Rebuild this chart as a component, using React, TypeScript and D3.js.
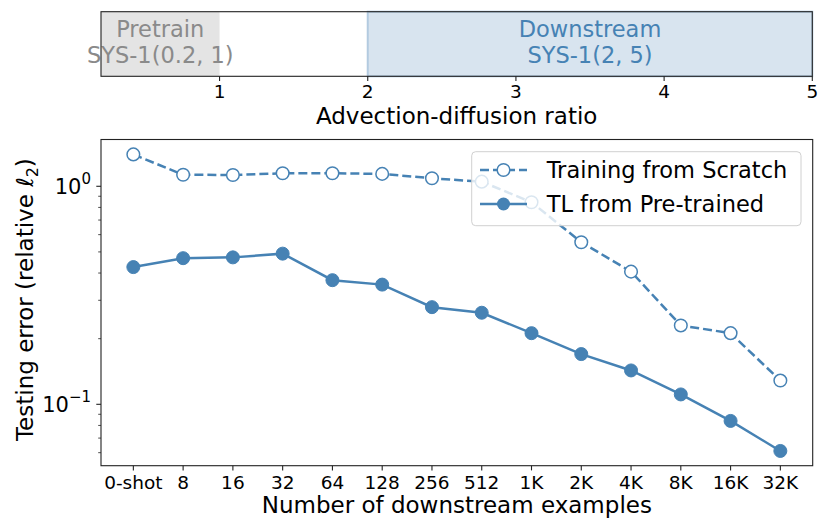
import React from "react";
import * as d3 from "d3";

const categories = ["0-shot", "8", "16", "32", "64", "128", "256", "512", "1K", "2K", "4K", "8K", "16K", "32K"];
const scratch = [1.40, 1.13, 1.127, 1.147, 1.147, 1.14, 1.088, 1.05, 0.845, 0.554, 0.406, 0.230, 0.212, 0.1285];
const pretrained = [0.426, 0.468, 0.472, 0.491, 0.371, 0.354, 0.279, 0.263, 0.212, 0.170, 0.143, 0.111, 0.0839, 0.0611];
const ratioTicks = [1, 2, 3, 4, 5];
const pretrainRange = [0.2, 1];
const downstreamRange = [2, 5];

const FONT = "DejaVu Sans, sans-serif";
const BLUE = "#4682b4";

export default function App() {
  const W = 830, H = 529;
  // top panel
  const tx = d3.scaleLinear().domain([0.2, 5]).range([101, 812.3]);
  const tTop = 11.7, tBot = 76.3;
  // main panel
  const x = d3.scaleLinear().domain([-0.65, categories.length - 1 + 0.65]).range([101, 812.7]);
  const y = d3.scaleLog().domain([0.05229, 1.639]).range([465.7, 139.5]);
  const mTop = 139.5, mBot = 465.7, mLeft = 101, mRight = 812.7;

  const line = d3.line<number>().x((_, i) => x(i)).y((d) => y(d));
  const minor = [0.06, 0.07, 0.08, 0.09, 0.2, 0.3, 0.4, 0.5, 0.6, 0.7, 0.8, 0.9];
  const majors = [{ v: 1, e: "0" }, { v: 0.1, e: "−1" }];

  return (
    <svg width={W} height={H} style={{ position: "absolute", left: 0, top: 0 }} fontFamily={FONT}>
      <rect width={W} height={H} fill="#fff" />
      {/* Top panel */}
      <rect x={tx(pretrainRange[0])} y={tTop} width={tx(pretrainRange[1]) - tx(pretrainRange[0])} height={tBot - tTop} fill="#e4e4e4" />
      <rect x={tx(downstreamRange[0])} y={tTop} width={tx(downstreamRange[1]) - tx(downstreamRange[0])} height={tBot - tTop} fill="#d8e4ef" stroke="#b3cbe0" strokeWidth={2} />
      <text x={tx(0.6)} y={37} textAnchor="middle" fontSize={22.5} fill="#8a8a8a">Pretrain</text>
      <text x={tx(0.6)} y={63} textAnchor="middle" fontSize={22.5} fill="#8a8a8a">SYS-1(0.2, 1)</text>
      <text x={tx(3.5)} y={37} textAnchor="middle" fontSize={22.5} fill={BLUE}>Downstream</text>
      <text x={tx(3.5)} y={63} textAnchor="middle" fontSize={22.5} fill={BLUE}>SYS-1(2, 5)</text>
      <rect x={101} y={tTop} width={812.3 - 101} height={tBot - tTop} fill="none" stroke="#222" strokeWidth={1.1} />
      {ratioTicks.map((t) => (
        <g key={t}>
          <line x1={tx(t)} x2={tx(t)} y1={tBot} y2={tBot + 4.7} stroke="#222" strokeWidth={1.1} />
          <text x={tx(t)} y={98} textAnchor="middle" fontSize={18.5} fill="#000">{t}</text>
        </g>
      ))}
      <text x={(101 + 812.3) / 2} y={124} textAnchor="middle" fontSize={23} fill="#000">Advection-diffusion ratio</text>

      {/* Main panel */}
      <path d={line(scratch) || ""} fill="none" stroke={BLUE} strokeWidth={2.5} strokeDasharray="9,4" />
      <path d={line(pretrained) || ""} fill="none" stroke={BLUE} strokeWidth={2.5} />
      {scratch.map((v, i) => (
        <circle key={"s" + i} cx={x(i)} cy={y(v)} r={6.3} fill="#fff" stroke={BLUE} strokeWidth={1.5} />
      ))}
      {pretrained.map((v, i) => (
        <circle key={"p" + i} cx={x(i)} cy={y(v)} r={6.5} fill={BLUE} stroke={BLUE} strokeWidth={1} />
      ))}
      <rect x={mLeft} y={mTop} width={mRight - mLeft} height={mBot - mTop} fill="none" stroke="#222" strokeWidth={1.1} />
      {categories.map((c, i) => (
        <g key={c}>
          <line x1={x(i)} x2={x(i)} y1={mBot} y2={mBot + 4.7} stroke="#222" strokeWidth={1.1} />
          <text x={x(i)} y={488.5} textAnchor="middle" fontSize={18.5} fill="#000">{c}</text>
        </g>
      ))}
      {minor.map((v) => (
        <line key={v} x1={mLeft - 2.8} x2={mLeft} y1={y(v)} y2={y(v)} stroke="#222" strokeWidth={0.8} />
      ))}
      {majors.map((m) => (
        <g key={m.v}>
          <line x1={mLeft - 4.7} x2={mLeft} y1={y(m.v)} y2={y(m.v)} stroke="#222" strokeWidth={1.1} />
          <text x={91} y={y(m.v) + 7.5} textAnchor="end" fontSize={21} fill="#000">
            10<tspan fontSize={15} dy={-10}>{m.e}</tspan>
          </text>
        </g>
      ))}
      <text x={(mLeft + mRight) / 2} y={513} textAnchor="middle" fontSize={23} fill="#000">Number of downstream examples</text>
      <text transform={`translate(33, ${(mTop + mBot) / 2 - 3}) rotate(-90)`} textAnchor="middle" fontSize={23} fill="#000">
        Testing error (relative <tspan fontStyle="italic">ℓ</tspan><tspan fontSize={16} dy={5}>2</tspan><tspan dy={-5}>)</tspan>
      </text>

      {/* Legend */}
      <rect x={471.7} y={151.7} width={801 - 471.7} height={225.7 - 151.7} rx={4} fill="#fff" fillOpacity={0.8} stroke="#d0d0d0" strokeWidth={1} />
      <line x1={480} x2={527} y1={170} y2={170} stroke={BLUE} strokeWidth={2.5} strokeDasharray="9,4" />
      <circle cx={503.5} cy={170} r={6.3} fill="#fff" stroke={BLUE} strokeWidth={1.5} />
      <text x={546.7} y={178} fontSize={22.5} fill="#000">Training from Scratch</text>
      <line x1={480} x2={527} y1={204} y2={204} stroke={BLUE} strokeWidth={2.5} />
      <circle cx={503.5} cy={204} r={6.5} fill={BLUE} />
      <text x={546.7} y={212} fontSize={22.5} fill="#000">TL from Pre-trained</text>
    </svg>
  );
}
